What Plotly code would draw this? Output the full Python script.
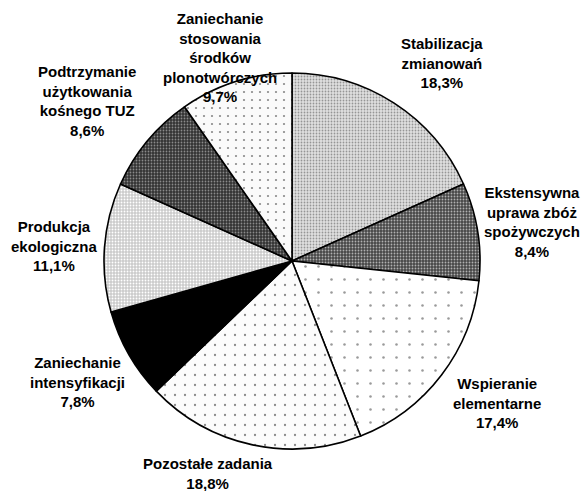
import plotly.graph_objects as go

# ---- data ----
categories = [
    "Stabilizacja<br>zmianowań",
    "Ekstensywna<br>uprawa zbóż<br>spożywczych",
    "Wspieranie<br>elementarne",
    "Pozostałe zadania",
    "Zaniechanie<br>intensyfikacji",
    "Produkcja<br>ekologiczna",
    "Podtrzymanie<br>użytkowania<br>kośnego TUZ",
    "Zaniechanie<br>stosowania<br>środków<br>plonotwórczych",
]
values = [18.3, 8.4, 17.4, 18.8, 7.8, 11.1, 8.6, 9.7]

# ---- styles ----
bg_colors = ["#e0e0e0", "#474747", "#ffffff", "#fcfcfc", "#000000", "#cbcbcb", "#333333", "#fafafa"]
fg_colors = ["#959595", "#b0b0b0", "#9a9a9a", "#8a8a8a", "#000000", "#ffffff", "#8a8a8a", "#8a8a8a"]
pat_shapes = [".", ".", ".", ".", "", ".", ".", "."]
pat_sizes = [3, 3, 13, 10, 8, 3, 3, 8]
pat_solid = [0.28, 0.3, 0.03, 0.04, 0.1, 0.3, 0.28, 0.06]

W, H = 584, 491
cx, cy, r = 292, 261, 188  # pixel centre and radius of the pie

# label anchor positions in pixels (layout only)
label_px = [(442, 63), (532, 222), (497, 403), (208, 473),
            (77, 382), (54, 246), (87, 101), (220, 58)]

fig = go.Figure(go.Pie(
    labels=[c.replace("<br>", " ") for c in categories],
    values=values,
    sort=False,
    direction="clockwise",
    rotation=0,
    textinfo="none",
    hoverinfo="label+percent",
    marker=dict(
        colors=bg_colors,
        line=dict(color="black", width=1.6),
        pattern=dict(shape=pat_shapes, fgcolor=fg_colors, bgcolor=bg_colors,
                     size=pat_sizes, solidity=pat_solid, fillmode="replace"),
    ),
    domain=dict(x=[(cx - r) / W, (cx + r) / W],
                y=[(H - cy - r) / H, (H - cy + r) / H]),
    showlegend=False,
))

for cat, val, (px, py) in zip(categories, values, label_px):
    txt = f"{cat}<br>{str(val).replace('.', ',')}%"
    fig.add_annotation(
        x=px / W, y=1 - py / H, xref="paper", yref="paper",
        text=f"<b>{txt}</b>", showarrow=False, align="center",
        xanchor="center", yanchor="middle",
        font=dict(family="Liberation Sans, Arial, sans-serif", size=15, color="black"),
    )

fig.update_layout(
    width=W, height=H,
    margin=dict(l=0, r=0, t=0, b=0),
    paper_bgcolor="white", plot_bgcolor="white",
)

# remove the default page margin so the figure fills the window exactly
fig.write_html(
    "out.html",
    config={"displayModeBar": False},
    post_script="document.body.style.margin='0';document.body.style.overflow='hidden';",
)
